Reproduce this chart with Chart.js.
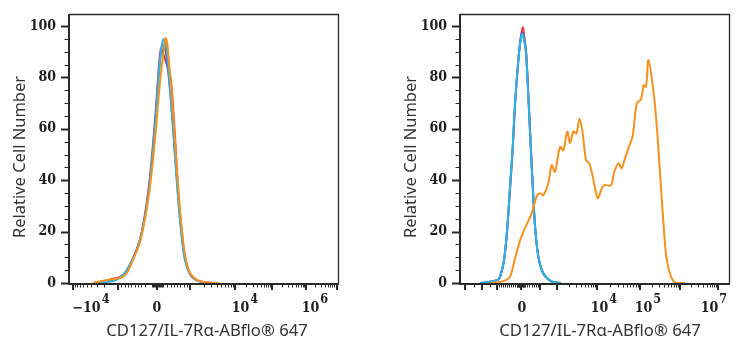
<!DOCTYPE html>
<html><head><meta charset="utf-8">
<script src="https://cdn.jsdelivr.net/npm/chart.js@4/dist/chart.umd.min.js"></script>
<style>
html,body{margin:0;padding:0;background:#fff;}
#wrap{position:relative;width:742px;height:350px;background:#fff;}
.c{position:absolute;top:0;width:371px;height:350px;}
</style></head><body>
<div id="wrap">
<div class="c" style="left:0"><canvas id="c1" width="371" height="350"></canvas></div>
<div class="c" style="left:371px"><canvas id="c2" width="371" height="350"></canvas></div>
</div>
<script>
// ---------- data (x in display channels of the biexponential axis, y = relative cell number) ----------
const yTickValues = [0, 20, 40, 60, 80, 100];
const xTitle = 'CD127/IL-7Rα-ABflo® 647';
const yTitle = 'Relative Cell Number';

// tick labels: base text + exponent, and their positions on the display axis
const leftXLabelBase = ['−10', '0', '10', '10'];
const leftXLabelExp = ['4', '', '4', '6'];
const leftXLabelPos = [22, 88, 176, 246];
const leftXMajor = [4, 49, 88, 121, 166, 203, 237, 268];

const rightXLabelBase = ['0', '10', '10', '10'];
const rightXLabelExp = ['', '4', '5', '7'];
const rightXLabelPos = [62, 144, 188, 254];
const rightXMajor = [5, 22, 37, 61, 80, 97, 137, 180, 220, 258];

// Left panel
const leftRedX = [25, 35, 42, 50, 57, 64, 71, 76, 80, 83.5, 86.5, 89, 90.7, 92, 94, 96.5, 99, 101.5, 103.5, 106, 108.5, 112, 116, 121, 128, 138, 150];
const leftRedY = [0, 0.6, 1.5, 2.2, 4.2, 9.5, 17, 27, 38, 52, 66, 80, 88, 91.3, 89.5, 86.5, 83.5, 80, 72, 57, 40, 23, 10, 3.5, 1, 0.2, 0];
const leftBlueX = [26, 35, 44, 54, 64, 71, 76, 80.3, 83.7, 86.7, 89.3, 91.5, 93.5, 96, 99, 102, 105, 108.3, 111.7, 116, 121.7, 129, 139, 150];
const leftBlueY = [0, 0.5, 1, 3, 9.6, 16.7, 26, 37.5, 50.5, 64.5, 78.5, 88.5, 93, 91.5, 83, 70.5, 55, 37.5, 22, 9, 3.1, 0.8, 0.1, 0];
const leftCyanX = [26, 35, 44.3, 54.3, 64.3, 71, 76, 80.3, 83.7, 86.7, 89.3, 91.7, 94.3, 96.7, 99.3, 102, 105, 108.3, 111.7, 116, 121.7, 129.3, 139.3, 150];
const leftCyanY = [0, 0.4, 0.8, 3.1, 9.6, 16.7, 25.8, 37.5, 50.5, 64.7, 79, 89.4, 94.8, 93.3, 84.2, 71.2, 55.6, 37.5, 21.9, 9, 3.1, 0.8, 0, 0];
const leftOrangeX = [24, 33, 40, 47, 53, 58, 64, 71, 76, 80.5, 84, 87, 89.5, 92, 94.5, 96.5, 98.2, 100, 102.5, 105.5, 108.5, 112, 116, 121, 128, 138, 150];
const leftOrangeY = [0, 0.8, 1.3, 1.6, 2.2, 4, 9, 16, 25, 36, 48, 60, 72, 82, 90, 95.3, 93.5, 86, 75, 58, 41, 24, 11, 4, 1.2, 0.2, 0];

// Right panel
const rightRedX = [20, 30, 37.7, 40, 44, 47.3, 50, 52.7, 55, 58.3, 60.7, 62.7, 64.3, 66.3, 68.5, 70.9, 72.9, 75.2, 78.5, 83.5, 92, 101];
const rightRedY = [0, 0.5, 1.2, 2.4, 8.5, 21, 36.5, 52, 69, 86.5, 95.5, 99.5, 96, 89, 72, 52.5, 37, 21.5, 10, 3.6, 0.5, 0];
const rightBlueX = [20, 30, 37.7, 40, 44, 47.3, 50, 52.7, 55, 58.3, 60.6, 62.5, 64.2, 66.2, 68.4, 70.8, 72.8, 75.1, 78.4, 83.4, 92, 101];
const rightBlueY = [0, 0.5, 1.2, 2.4, 8.7, 21.4, 37, 52.5, 69.5, 86.6, 94.8, 97.5, 95, 89.2, 72.2, 52.8, 37.2, 21.7, 10.1, 3.7, 0.5, 0];
const rightCyanX = [20, 30, 37.7, 40, 44, 47.3, 50, 52.7, 55, 58.3, 60.5, 62.3, 64, 66, 68.3, 70.7, 72.7, 75, 78.3, 83.3, 91.7, 101];
const rightCyanY = [0, 0.5, 1.2, 2.5, 9, 21.9, 37.5, 53, 69.9, 86.8, 94, 96.9, 94.5, 89.4, 72.5, 53, 37.5, 21.9, 10.2, 3.8, 0.5, 0];
const rightOrangeX = [30, 36.7, 44, 50, 55, 60, 64.5, 71.7, 77, 80, 83.3, 88.3, 91.7, 95, 100, 103.3, 107.3, 110, 113.3, 116.5, 119.5, 122.7, 126, 129.3, 132.7, 137.7, 141.7, 144.3, 151, 154, 158.3, 161.7, 165, 168, 172.7, 176.7, 181, 183.7, 186, 188.5, 193.5, 197, 200.5, 203.5, 206.5, 211, 216, 225];
const rightOrangeY = [0, 0.2, 0.8, 2.5, 9.5, 16.5, 21, 27.1, 34, 34.9, 34.2, 38.8, 45.9, 43.3, 53, 51.6, 58.9, 54.4, 58.9, 58.2, 64, 58.2, 47.9, 46.6, 41.5, 33, 36.8, 38.1, 38, 42.8, 46.6, 44.7, 48.5, 52, 57.3, 69.9, 71.5, 77, 76.4, 86.8, 74.5, 60, 40, 23, 9.5, 2.5, 0, 0];

// ---------- helpers ----------
const COLORS = {red: '#ec3a42', blue: '#5560c4', cyan: '#2bb5e5', orange: '#f5921f'};
const SERIF = '"DejaVu Serif Condensed", "DejaVu Serif", serif';
function pts(xs, ys) { return xs.map((x, i) => ({x: x, y: ys[i]})); }
function decade(a, b, neg) { const o = []; for (let k = 2; k <= 9; k++) { const f = Math.log10(k); o.push(neg ? b - (b - a) * f : a + (b - a) * f); } return o; }
function even(a, b, n) { const o = []; for (let i = 1; i < n; i++) o.push(a + (b - a) * i / n); return o; }

const leftXMinor = [].concat(decade(4, 49, true), even(49, 79, 9), even(82, 95, 12), even(95, 121, 8),
  decade(121, 166), decade(166, 203), decade(203, 237), decade(237, 268));
const rightXMinor = [].concat(even(5, 22, 2), even(22, 37, 2), even(37, 61, 12), even(56, 65, 12), even(61, 80, 9),
  decade(97, 137), decade(137, 180), decade(180, 220), decade(220, 258));

const deco = {
  id: 'deco',
  beforeDatasetsDraw(chart, args, o) {
    const ctx = chart.ctx, a = chart.chartArea, xs = chart.scales.x, ys = chart.scales.y;
    ctx.save();
    ctx.strokeStyle = '#2a2a2a';
    // frame top/right
    ctx.lineWidth = 1.3;
    ctx.beginPath();
    ctx.moveTo(a.left, a.top + 0.5); ctx.lineTo(a.right - 0.5, a.top + 0.5); ctx.lineTo(a.right - 0.5, a.bottom);
    ctx.stroke();
    // axes
    ctx.lineWidth = 2;
    ctx.beginPath();
    ctx.moveTo(a.left, a.top); ctx.lineTo(a.left, a.bottom + 1); ctx.lineTo(a.right, a.bottom + 1);
    ctx.stroke();
    // y ticks
    for (let v = 0; v <= 100; v += 5) {
      const y = Math.round(ys.getPixelForValue(v)) + 0.5;
      const major = yTickValues.includes(v);
      ctx.lineWidth = major ? 2 : 1;
      ctx.beginPath(); ctx.moveTo(a.left - (major ? 8 : 4.5), y); ctx.lineTo(a.left, y); ctx.stroke();
    }
    // x ticks
    o.minor.forEach(v => {
      const x = Math.round(xs.getPixelForValue(v)) + 0.5;
      ctx.lineWidth = 1;
      ctx.beginPath(); ctx.moveTo(x, a.bottom + 1); ctx.lineTo(x, a.bottom + 4.5); ctx.stroke();
    });
    o.major.forEach(v => {
      const x = Math.round(xs.getPixelForValue(v));
      ctx.lineWidth = 2;
      ctx.beginPath(); ctx.moveTo(x, a.bottom + 1); ctx.lineTo(x, a.bottom + 7); ctx.stroke();
    });
    // x tick labels with superscript exponents
    ctx.fillStyle = '#1e1e1e';
    ctx.textBaseline = 'alphabetic';
    ctx.textAlign = 'left';
    const baseFont = 'bold 14px ' + SERIF, expFont = 'bold 12.5px ' + SERIF;
    o.labelPos.forEach((v, i) => {
      const base = o.labelBase[i], exp = o.labelExp[i];
      ctx.font = baseFont; const wb = ctx.measureText(base).width;
      ctx.font = expFont; const we = exp ? ctx.measureText(exp).width + 1 : 0;
      const cx = xs.getPixelForValue(v);
      let x0 = cx - (wb + we) / 2;
      ctx.font = baseFont; ctx.fillText(base, x0, a.bottom + 29);
      if (exp) { ctx.font = expFont; ctx.fillText(exp, x0 + wb + 1, a.bottom + 20); }
    });
    // titles
    ctx.fillStyle = '#333';
    ctx.font = '16.7px "Noto Sans"';
    ctx.textAlign = 'center'; ctx.textBaseline = 'middle';
    ctx.fillText(xTitle, (a.left + a.right) / 2 + o.xTitleShift, 331);
    ctx.save();
    ctx.translate(o.yTitleX, 157);
    ctx.rotate(-Math.PI / 2);
    ctx.font = '16.5px "Noto Sans"';
    ctx.fillText(yTitle, 0, 0);
    ctx.restore();
    ctx.restore();
  }
};

function makeChart(id, sets, yAxisWidth, padRight, labelBase, labelExp, labelPos, major, minor, yTitleX, xTitleShift) {
  const tickFont = {family: SERIF, size: 14, weight: 'bold'};
  return new Chart(document.getElementById(id), {
    type: 'line',
    data: {datasets: sets.map(s => ({data: pts(s[1], s[2]), borderColor: COLORS[s[0]], borderWidth: 2, fill: false, tension: 0.3, pointRadius: 0}))},
    options: {
      responsive: false, animation: false, devicePixelRatio: 1,
      layout: {padding: {left: 0, right: padRight, top: 14, bottom: 0}},
      plugins: {legend: {display: false}, tooltip: {enabled: false},
        deco: {major: major, minor: minor, yTitleX: yTitleX, xTitleShift: xTitleShift, labelBase: labelBase, labelExp: labelExp, labelPos: labelPos}},
      scales: {
        x: {
          type: 'linear', min: 0, max: 270,
          afterFit(s) { s.height = 67; s.paddingLeft = 0; s.paddingRight = 0; },
          ticks: {display: false},
          grid: {display: false, drawTicks: false}, border: {display: false}
        },
        y: {
          type: 'linear', min: 0, max: 104.7,
          afterFit(s) { s.width = yAxisWidth; s.paddingTop = 0; s.paddingBottom = 0; },
          afterBuildTicks(s) { s.ticks = yTickValues.map(v => ({value: v})); },
          ticks: {padding: 13, font: tickFont, color: '#1e1e1e', callback: v => String(v)},
          grid: {display: false, drawTicks: false}, border: {display: false}
        }
      }
    },
    plugins: [deco]
  });
}

makeChart('c1', [
  ['orange', leftOrangeX, leftOrangeY],
  ['cyan', leftCyanX, leftCyanY],
  ['blue', leftBlueX, leftBlueY],
  ['red', leftRedX, leftRedY]
], 69, 32, leftXLabelBase, leftXLabelExp, leftXLabelPos, leftXMajor, leftXMinor, 20, 3);

makeChart('c2', [
  ['orange', rightOrangeX, rightOrangeY],
  ['cyan', rightCyanX, rightCyanY],
  ['blue', rightBlueX, rightBlueY],
  ['red', rightRedX, rightRedY]
], 89, 12, rightXLabelBase, rightXLabelExp, rightXLabelPos, rightXMajor, rightXMinor, 40, 5);
</script>
</body></html>
